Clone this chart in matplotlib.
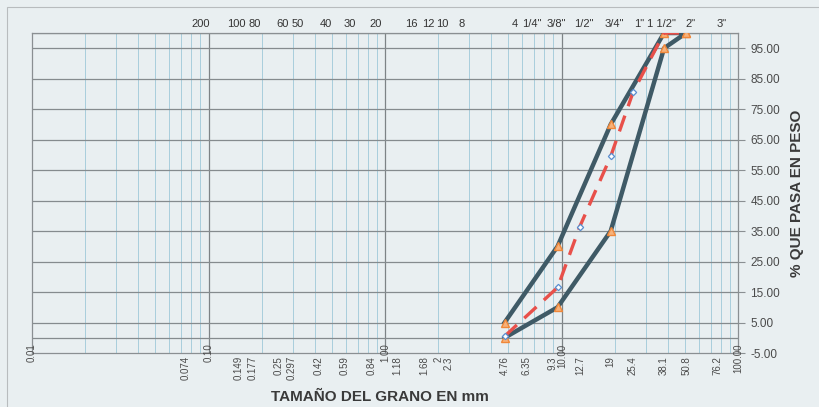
import matplotlib.pyplot as plt
import matplotlib.patches as mpatches
from matplotlib.transforms import blended_transform_factory, offset_copy

# === Data ===
# sieve openings (mm) for the three curves
sizes = [4.76, 9.5, 19.0, 38.1, 50.8]
upper_limit = [5, 30, 70, 100, 100]
lower_limit = [0, 10, 35, 95, 100]

sample_sizes = [4.76, 9.5, 12.7, 19.0, 25.4, 38.1, 50.8]
sample_pass = [0.5, 16.5, 36.5, 59.5, 80.5, 100, 100]

# bottom axis labels (mm)
bottom_vals = [0.01, 0.074, 0.10, 0.149, 0.177, 0.25, 0.297, 0.42, 0.59, 0.84,
               1.00, 1.18, 1.68, 2, 2.3, 4.76, 6.35, 9.3, 10.00, 12.7, 19,
               25.4, 38.1, 50.8, 76.2, 100.00]
bottom_labels = ["0.01", "0.074", "0.10", "0.149", "0.177", "0.25", "0.297", "0.42",
                 "0.59", "0.84", "1.00", "1.18", "1.68", "2", "2.3", "4.76", "6.35",
                 "9.3", "10.00", "12.7", "19", "25.4", "38.1", "50.8", "76.2", "100.00"]
decade_labels = ["0.01", "0.10", "1.00", "10.00", "100.00"]

# sieve names on top axis
top_vals = [0.074, 0.149, 0.177, 0.25, 0.297, 0.42, 0.59, 0.84, 1.18, 1.68, 2.0, 2.3,
            4.76, 6.35, 9.3, 12.7, 19, 25.4, 38.1, 50.8, 76.2]
top_labels = ["200", "100", "80", "60", "50", "40", "30", "20", "16", "12", "10", "8",
              "4", '1/4"', '3/8"', '1/2"', '3/4"', '1"', '1 1/2"', '2"', '3"']

y_ticks = [-5, 5, 15, 25, 35, 45, 55, 65, 75, 85, 95]
h_grid = [0, 5, 15, 25, 35, 45, 55, 65, 75, 85, 95, 100]

# === Style ===
BG = "#e9eff1"
LINE = "#3f5a66"
ORANGE = "#f0883a"
RED = "#e8504a"
TXT = "#4a4a4a"

# pixel nudges for the sieve names, as placed on the original sheet
top_nudge = {"200": 15, "100": -3, "80": 2, "50": 6, "40": 7, "30": 5, "16": 14,
             "8": 13, "4": 10, '1/4"': 5, '3/8"': 0, '1"': 6, '1 1/2"': -3}

plt.rcParams['font.family'] = ['Liberation Sans', 'DejaVu Sans']

fig = plt.figure(figsize=(8.19, 4.07), dpi=100, facecolor=BG)
ax = fig.add_axes([32 / 819, 1 - 353 / 407, (738 - 32) / 819, (353 - 33) / 407])
ax.set_facecolor(BG)

# page border from the scan
fig.add_artist(mpatches.Rectangle((7 / 819, -0.05), 1.2, 1 - 7 / 407 + 0.05,
                                  transform=fig.transFigure, fill=False,
                                  edgecolor="#b8bcbe", lw=0.8))

ax.set_xscale('log')
ax.set_xlim(0.01, 100)
ax.set_ylim(-5, 100)

# grid lines
for dec in [0.01, 0.1, 1, 10]:
    for m in range(2, 10):
        ax.axvline(dec * m, color="#a8cddc", lw=0.7, zorder=1)
for dec in [0.1, 1, 10]:
    ax.axvline(dec, color="#7d8386", lw=0.9, zorder=1)
for yv in h_grid:
    ax.axhline(yv, color="#858b8e", lw=0.9, zorder=1)

# curves
ax.plot(sizes, upper_limit, color=LINE, lw=3.2, zorder=3)
ax.plot(sizes, lower_limit, color=LINE, lw=3.2, zorder=3)
ax.plot(sizes, upper_limit, ls='none', marker='^', ms=5.5, mfc="#f7b27a", mec=ORANGE, mew=1, zorder=4)
ax.plot(sizes, lower_limit, ls='none', marker='^', ms=5.5, mfc="#f7b27a", mec=ORANGE, mew=1, zorder=4)
ax.plot(sample_sizes, sample_pass, color=RED, lw=2.4, ls=(0, (5, 3)), zorder=5)
ax.plot(sample_sizes[:-2], sample_pass[:-2], ls='none', marker='D', ms=3.2, mfc="white",
        mec="#5a8fd0", mew=0.9, zorder=6)

# axes styling
for s in ax.spines.values():
    s.set_color("#8a8f92")
    s.set_linewidth(0.9)

ax.yaxis.tick_right()
ax.set_yticks(y_ticks)
ax.set_yticklabels([f"{v:.2f}" for v in y_ticks], fontsize=8.5, color=TXT)
ax.tick_params(axis='y', length=5, width=0.8, color="#8a8f92", pad=4)
ax.set_ylabel("% QUE PASA EN PESO", fontsize=11, fontweight='bold', color="#3a3a3a")
ax.yaxis.set_label_position('right')
ax.yaxis.labelpad = 7

ax.set_xticks([])
ax.minorticks_off()
ax.tick_params(axis='x', which='both', length=0, labelbottom=False)

trans = blended_transform_factory(ax.transData, ax.transAxes)
for v, lab in zip(bottom_vals, bottom_labels):
    dx = -3 if lab == "9.3" else (1 if lab == "10.00" else 0)
    tr = offset_copy(trans, fig=fig, x=dx, y=0, units='dots')
    if lab in decade_labels:
        ax.text(v, 0.03, lab, transform=tr, rotation=90, ha='center', va='top',
                fontsize=7, color=TXT, clip_on=False)
    else:
        ax.text(v, -0.01, lab, transform=tr, rotation=90, ha='center', va='top',
                fontsize=7, color=TXT, clip_on=False)

for v, lab in zip(top_vals, top_labels):
    dx = top_nudge.get(lab, 4)
    tr = offset_copy(trans, fig=fig, x=dx, y=0, units='dots')
    ax.text(v, 1.012, lab, transform=tr, ha='center', va='bottom',
            fontsize=8, color="#333333", clip_on=False)

fig.text(380 / 819, 1 - 397 / 407, "TAMAÑO DEL GRANO EN mm", ha='center', va='center',
         fontsize=11, fontweight='bold', color="#3a3a3a")

fig.savefig("out.png", dpi=100, facecolor=BG)
